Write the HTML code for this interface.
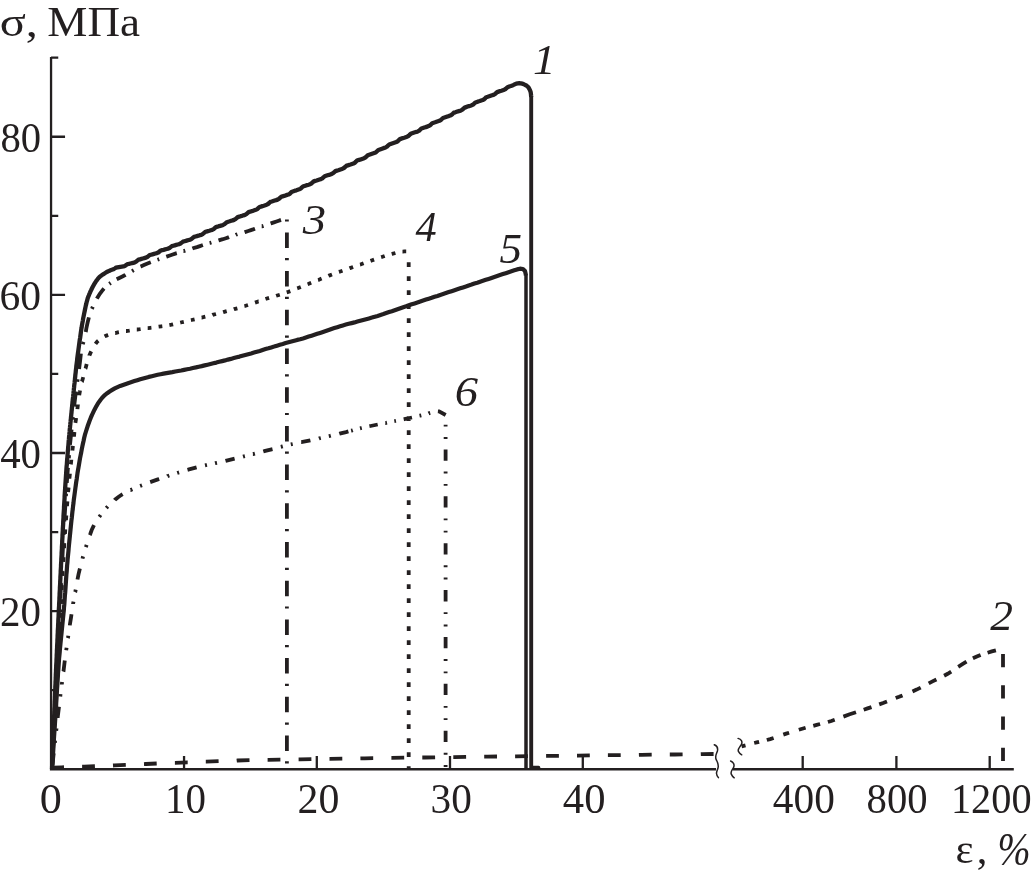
<!DOCTYPE html>
<html lang="ru">
<head>
<meta charset="utf-8">
<title>σ – ε</title>
<style>
html,body{margin:0;padding:0;background:#fff;}
body{width:1032px;height:877px;overflow:hidden;}
svg{display:block;}
text{font-family:"Liberation Serif","Times New Roman",Times,serif;fill:#231f20;}
</style>
</head>
<body>
<svg width="1032" height="877" viewBox="0 0 1032 877">
<rect width="1032" height="877" fill="#fff"/>
<g fill="none" stroke="#231f20">
<path stroke-width="2.3" d="M51.05 56.90 V769.25 H716M733 769.25 H1013.8M51.05 57.71 h7.2M51.05 215.83 h7.2M51.05 373.95 h7.2M51.05 532.07 h7.2M51.05 690.19 h7.2M51.05 136.77 h14M51.05 294.89 h14M51.05 453.01 h14M51.05 611.13 h14M184.05 769.25 v-13.3M316.80 769.25 v-13.3M450.00 769.25 v-13.3M582.80 769.25 v-13.3M802.70 769.25 v-13.3M896.40 769.25 v-13.3M989.70 769.25 v-13.3"/>
<path stroke-width="1.5" stroke-linecap="round" d="M714.3 744.8 C716.5 745.6 718.2 747.6 717.4 751 C716.6 754 714.6 756 716.2 759.6 C717.6 762.6 719 764.6 718 768 C717 771.6 715 773.4 718.4 777.6M730.6 761 C733.4 762.2 734.8 764.6 733.6 767.4 C732.2 770.4 730 772 731.4 774.4 C732 775.8 733 777 734.2 777.8M738.1 738.4 C741.2 739.4 742.8 741.6 741.4 744.4 C739.8 747.4 737.4 748.8 738.4 751.4 C739.2 753 740.4 754 741.7 754.8"/>
<path stroke-width="4.3" stroke-linejoin="round" d="M52.0 769.0 L52.1 767.5 L52.1 766.0 L52.2 764.5 L52.2 763.0 L52.3 761.5 L52.4 760.0 L52.4 758.5 L52.5 757.0 L52.5 755.5 L52.6 754.0 L52.7 752.5 L52.7 751.0 L52.8 749.5 L52.9 748.0 L52.9 746.5 L53.0 745.0 L53.0 743.5 L53.1 742.0 L53.2 740.5 L53.2 739.0 L53.3 737.5 L53.3 736.0 L53.4 734.5 L53.5 733.0 L53.5 731.5 L53.6 730.0 L53.6 728.5 L53.7 727.0 L53.8 725.5 L53.8 724.0 L53.9 722.5 L54.0 721.0 L54.0 719.5 L54.1 718.0 L54.1 716.5 L54.2 715.0 L54.3 713.5 L54.3 712.0 L54.4 710.5 L54.4 709.0 L54.5 707.6 L54.6 706.1 L54.6 704.6 L54.7 703.1 L54.7 701.6 L54.8 700.1 L54.9 698.6 L54.9 697.1 L55.0 695.6 L55.0 694.1 L55.1 692.6 L55.2 691.1 L55.2 689.6 L55.3 688.1 L55.3 686.6 L55.4 685.1 L55.5 683.6 L55.5 682.1 L55.6 680.6 L55.7 679.1 L55.7 677.6 L55.8 676.1 L55.8 674.6 L55.9 673.1 L56.0 671.6 L56.0 670.1 L56.1 668.6 L56.2 667.1 L56.2 665.6 L56.3 664.1 L56.4 662.6 L56.5 661.1 L56.5 659.6 L56.6 658.1 L56.7 656.6 L56.7 655.1 L56.8 653.6 L56.9 652.1 L56.9 650.6 L57.0 649.1 L57.1 647.6 L57.1 646.1 L57.2 644.6 L57.3 643.1 L57.4 641.6 L57.4 640.1 L57.5 638.6 L57.6 637.1 L57.6 635.6 L57.7 634.1 L57.8 632.6 L57.8 631.1 L57.9 629.6 L58.0 628.1 L58.1 626.6 L58.1 625.1 L58.2 623.6 L58.3 622.1 L58.3 620.6 L58.4 619.1 L58.5 617.6 L58.6 616.1 L58.6 614.6 L58.7 613.1 L58.8 611.6 L58.8 610.1 L58.9 608.7 L59.0 607.2 L59.1 605.7 L59.1 604.2 L59.2 602.7 L59.3 601.2 L59.4 599.7 L59.4 598.2 L59.5 596.7 L59.6 595.2 L59.6 593.7 L59.7 592.2 L59.8 590.7 L59.9 589.2 L59.9 587.7 L60.0 586.2 L60.1 584.7 L60.2 583.2 L60.2 581.7 L60.3 580.2 L60.4 578.7 L60.4 577.2 L60.5 575.7 L60.6 574.2 L60.7 572.7 L60.7 571.2 L60.8 569.7 L60.9 568.2 L61.0 566.7 L61.0 565.2 L61.1 563.7 L61.2 562.2 L61.3 560.7 L61.3 559.2 L61.4 557.7 L61.5 556.2 L61.6 554.7 L61.6 553.2 L61.7 551.7 L61.8 550.2 L61.9 548.7 L61.9 547.2 L62.0 545.7 L62.1 544.2 L62.2 542.7 L62.2 541.2 L62.3 539.7 L62.4 538.2 L62.5 536.7 L62.5 535.2 L62.6 533.7 L62.7 532.2 L62.8 530.7 L62.8 529.2 L62.9 527.7 L63.0 526.3 L63.1 524.8 L63.2 523.3 L63.2 521.8 L63.3 520.3 L63.4 518.8 L63.5 517.3 L63.5 515.8 L63.6 514.3 L63.7 512.8 L63.8 511.3 L63.9 509.8 L64.0 508.3 L64.0 506.8 L64.1 505.3 L64.2 503.8 L64.3 502.3 L64.4 500.8 L64.5 499.3 L64.6 497.8 L64.6 496.3 L64.7 494.8 L64.8 493.3 L64.9 491.8 L65.0 490.3 L65.1 488.8 L65.2 487.3 L65.3 485.8 L65.4 484.3 L65.5 482.8 L65.6 481.3 L65.7 479.8 L65.8 478.3 L65.9 476.8 L66.0 475.3 L66.1 473.8 L66.2 472.3 L66.3 470.9 L66.4 469.4 L66.5 467.9 L66.6 466.4 L66.8 464.9 L66.9 463.4 L67.0 461.9 L67.1 460.4 L67.2 458.9 L67.4 457.4 L67.5 455.9 L67.6 454.4 L67.7 452.9 L67.8 451.4 L68.0 449.9 L68.1 448.4 L68.2 446.9 L68.4 445.4 L68.5 443.9 L68.6 442.4 L68.7 440.9 L68.9 439.5 L69.0 438.0 L69.1 436.5 L69.3 435.0 L69.4 433.5 L69.6 432.0 L69.7 430.5 L69.8 429.0 L70.0 427.5 L70.1 426.0 L70.3 424.5 L70.4 423.0 L70.6 421.5 L70.7 420.0 L70.9 418.6 L71.0 417.1 L71.2 415.6 L71.3 414.1 L71.5 412.6 L71.6 411.1 L71.8 409.6 L71.9 408.1 L72.1 406.6 L72.2 405.1 L72.4 403.6 L72.5 402.1 L72.7 400.6 L72.8 399.2 L73.0 397.7 L73.2 396.2 L73.3 394.7 L73.5 393.2 L73.6 391.7 L73.8 390.2 L73.9 388.7 L74.1 387.2 L74.2 385.7 L74.4 384.2 L74.6 382.7 L74.7 381.2 L74.9 379.8 L75.0 378.3 L75.2 376.8 L75.3 375.3 L75.5 373.8 L75.7 372.3 L75.8 370.8 L76.0 369.3 L76.2 367.8 L76.3 366.3 L76.5 364.8 L76.7 363.4 L76.9 361.9 L77.1 360.4 L77.2 358.9 L77.4 357.4 L77.6 355.9 L77.8 354.4 L78.0 352.9 L78.2 351.5 L78.4 350.0 L78.6 348.5 L78.8 347.0 L79.0 345.5 L79.2 344.0 L79.4 342.5 L79.6 341.1 L79.8 339.6 L80.1 338.1 L80.3 336.6 L80.5 335.1 L80.7 333.6 L80.9 332.1 L81.1 330.7 L81.3 329.2 L81.6 327.7 L81.8 326.2 L82.1 324.7 L82.3 323.3 L82.6 321.8 L82.9 320.3 L83.1 318.8 L83.4 317.4 L83.7 315.9 L84.0 314.4 L84.3 312.9 L84.6 311.5 L84.9 310.0 L85.2 308.5 L85.5 307.1 L85.8 305.6 L86.2 304.1 L86.5 302.7 L86.9 301.2 L87.3 299.8 L87.7 298.3 L88.2 296.9 L88.8 295.5 L89.3 294.1 L89.9 292.8 L90.5 291.4 L91.2 290.0 L91.8 288.7 L92.5 287.3 L93.2 286.0 L93.9 284.7 L94.7 283.4 L95.5 282.1 L96.3 280.9 L97.2 279.7 L98.1 278.5 L99.1 277.4 L100.2 276.4 L101.4 275.5 L102.6 274.6 L103.9 273.8 L105.2 273.0 L106.5 272.2 L107.8 271.5 L109.1 270.9 L110.5 270.3 L111.9 269.8 L113.3 269.3 L114.7 268.5 L116.0 267.7 L117.4 267.4 L118.9 267.1 L120.4 266.8 L121.9 266.6 L123.4 266.4 L124.8 265.9 L126.1 265.1 L127.4 264.2 L128.9 263.9 L130.4 263.5 L131.8 263.2 L133.3 262.8 L134.8 262.4 L136.1 261.7 L137.3 260.7 L138.5 259.7 L140.0 259.3 L141.4 258.9 L142.9 258.5 L144.3 258.1 L145.8 257.7 L147.2 257.1 L148.4 256.1 L149.6 255.1 L151.0 254.7 L152.5 254.3 L154.0 253.9 L155.4 253.5 L156.9 253.1 L158.3 252.5 L159.5 251.5 L160.7 250.5 L162.2 250.1 L163.6 249.8 L165.1 249.4 L166.6 249.0 L168.0 248.7 L169.4 248.1 L170.6 247.1 L171.9 246.1 L173.3 245.7 L174.8 245.3 L176.2 244.9 L177.7 244.5 L179.2 244.2 L180.5 243.5 L181.7 242.6 L183.0 241.6 L184.4 241.2 L185.9 240.8 L187.3 240.4 L188.8 240.0 L190.3 239.6 L191.6 238.9 L192.8 237.9 L194.0 236.9 L195.5 236.5 L196.9 236.1 L198.4 235.7 L199.8 235.2 L201.3 234.8 L202.6 234.1 L203.8 233.1 L205.0 232.1 L206.4 231.6 L207.9 231.2 L209.3 230.8 L210.8 230.3 L212.2 229.9 L213.6 229.2 L214.7 228.2 L215.9 227.1 L217.4 226.7 L218.8 226.2 L220.3 225.8 L221.7 225.4 L223.1 224.9 L224.5 224.2 L225.7 223.2 L226.8 222.2 L228.3 221.7 L229.7 221.3 L231.2 220.8 L232.6 220.4 L234.1 219.9 L235.4 219.2 L236.6 218.2 L237.7 217.1 L239.2 216.7 L240.6 216.2 L242.1 215.8 L243.5 215.3 L245.0 214.9 L246.3 214.2 L247.5 213.2 L248.6 212.1 L250.1 211.7 L251.5 211.2 L253.0 210.8 L254.4 210.3 L255.8 209.8 L257.2 209.1 L258.3 208.1 L259.5 207.0 L260.9 206.6 L262.4 206.1 L263.8 205.7 L265.3 205.2 L266.7 204.7 L268.0 204.0 L269.2 203.0 L270.4 201.9 L271.8 201.5 L273.2 201.0 L274.7 200.5 L276.1 200.1 L277.6 199.6 L278.9 198.9 L280.0 197.9 L281.2 196.8 L282.6 196.3 L284.1 195.9 L285.5 195.4 L287.0 194.9 L288.4 194.5 L289.7 193.8 L290.9 192.7 L292.0 191.7 L293.5 191.2 L294.9 190.7 L296.4 190.3 L297.8 189.8 L299.2 189.3 L300.6 188.6 L301.7 187.6 L302.9 186.5 L304.3 186.0 L305.8 185.6 L307.2 185.1 L308.6 184.7 L310.1 184.2 L311.4 183.5 L312.6 182.4 L313.7 181.4 L315.2 180.9 L316.6 180.5 L318.1 180.0 L319.5 179.5 L320.9 179.1 L322.3 178.4 L323.4 177.3 L324.6 176.3 L326.0 175.8 L327.5 175.3 L328.9 174.9 L330.3 174.4 L331.8 173.9 L333.1 173.2 L334.3 172.2 L335.4 171.1 L336.9 170.6 L338.3 170.2 L339.7 169.7 L341.2 169.2 L342.6 168.7 L343.9 168.0 L345.1 167.0 L346.2 165.9 L347.7 165.4 L349.1 164.9 L350.5 164.5 L352.0 164.0 L353.4 163.5 L354.7 162.8 L355.9 161.7 L357.0 160.6 L358.4 160.1 L359.9 159.7 L361.3 159.2 L362.7 158.7 L364.2 158.2 L365.5 157.4 L366.6 156.4 L367.7 155.3 L369.2 154.8 L370.6 154.3 L372.0 153.8 L373.5 153.3 L374.9 152.8 L376.2 152.1 L377.3 151.0 L378.5 149.9 L379.9 149.4 L381.3 148.9 L382.7 148.4 L384.2 147.9 L385.6 147.4 L386.9 146.7 L388.0 145.6 L389.2 144.5 L390.6 144.0 L392.0 143.5 L393.5 143.0 L394.9 142.5 L396.3 142.0 L397.6 141.3 L398.8 140.2 L399.9 139.1 L401.4 138.6 L402.8 138.1 L404.2 137.7 L405.6 137.2 L407.1 136.7 L408.4 136.0 L409.5 134.9 L410.7 133.8 L412.1 133.3 L413.5 132.8 L415.0 132.3 L416.4 131.9 L417.8 131.4 L419.2 130.7 L420.3 129.6 L421.4 128.5 L422.9 128.0 L424.3 127.5 L425.7 127.1 L427.2 126.6 L428.6 126.1 L429.9 125.4 L431.1 124.3 L432.2 123.2 L433.7 122.7 L435.1 122.3 L436.5 121.8 L438.0 121.3 L439.4 120.8 L440.7 120.1 L441.9 119.0 L443.0 118.0 L444.5 117.5 L445.9 117.0 L447.3 116.5 L448.8 116.1 L450.2 115.6 L451.5 114.9 L452.7 113.8 L453.8 112.7 L455.3 112.3 L456.7 111.8 L458.1 111.3 L459.6 110.9 L461.0 110.4 L462.3 109.7 L463.5 108.6 L464.6 107.6 L466.1 107.1 L467.5 106.6 L469.0 106.1 L470.4 105.7 L471.8 105.2 L473.2 104.5 L474.3 103.4 L475.5 102.4 L476.9 101.9 L478.3 101.4 L479.8 101.0 L481.2 100.5 L482.7 100.0 L484.0 99.3 L485.1 98.3 L486.3 97.2 L487.7 96.8 L489.2 96.3 L490.6 95.8 L492.1 95.3 L493.5 94.9 L494.8 94.2 L496.0 93.1 L497.1 92.1 L498.6 91.6 L500.0 91.1 L501.4 90.7 L502.9 90.2 L504.3 89.7 L505.6 89.0 L506.8 87.9 L508.0 86.9 L509.4 86.4 L510.9 86.0 L512.3 85.5 L513.6 84.9 L515.0 84.2 L516.3 83.6 L517.7 83.3 L519.2 83.2 L520.7 83.3 L522.2 83.7 L523.6 84.1 L525.0 84.8 L526.3 85.5 L527.5 86.4 L528.5 87.5 L529.3 88.8 L529.9 90.1 L530.5 91.5 L530.8 93.0 L531.0 94.5 L531.1 96.0 L531.2 97.0"/>
<path stroke-width="3.4" stroke-linecap="round" d="M532 767.4 L538.6 767.4"/>
<path stroke-width="4.2" stroke-linejoin="round" d="M52.0 769.0 L52.2 766.0 L52.4 763.0 L52.6 760.0 L52.8 757.0 L53.0 754.0 L53.2 751.0 L53.4 748.0 L53.6 745.1 L53.8 742.1 L53.9 739.1 L54.1 736.1 L54.3 733.1 L54.5 730.1 L54.7 727.1 L54.9 724.1 L55.1 721.1 L55.3 718.1 L55.5 715.1 L55.7 712.1 L55.9 709.1 L56.1 706.1 L56.2 703.1 L56.4 700.1 L56.6 697.1 L56.8 694.2 L56.9 691.2 L57.1 688.2 L57.3 685.2 L57.5 682.2 L57.7 679.2 L57.9 676.2 L58.0 673.2 L58.3 670.2 L58.5 667.2 L58.7 664.2 L58.9 661.2 L59.1 658.2 L59.4 655.2 L59.7 652.3 L59.9 649.3 L60.2 646.3 L60.5 643.3 L60.8 640.3 L61.1 637.3 L61.4 634.3 L61.7 631.4 L62.0 628.4 L62.3 625.4 L62.6 622.4 L62.9 619.4 L63.2 616.4 L63.5 613.4 L63.8 610.5 L64.0 607.5 L64.3 604.5 L64.5 601.5 L64.7 598.5 L64.9 595.5 L65.2 592.5 L65.4 589.5 L65.6 586.5 L65.8 583.5 L66.0 580.5 L66.2 577.5 L66.4 574.6 L66.7 571.6 L66.9 568.6 L67.1 565.6 L67.4 562.6 L67.6 559.6 L67.9 556.6 L68.2 553.6 L68.5 550.6 L68.7 547.7 L69.0 544.7 L69.3 541.7 L69.6 538.7 L69.9 535.7 L70.2 532.7 L70.5 529.7 L70.8 526.8 L71.1 523.8 L71.4 520.8 L71.8 517.8 L72.1 514.8 L72.4 511.8 L72.8 508.9 L73.1 505.9 L73.5 502.9 L73.8 499.9 L74.2 497.0 L74.6 494.0 L75.0 491.0 L75.4 488.0 L75.8 485.1 L76.2 482.1 L76.7 479.1 L77.1 476.1 L77.5 473.2 L78.0 470.2 L78.5 467.3 L79.0 464.3 L79.5 461.3 L80.0 458.4 L80.6 455.4 L81.2 452.5 L81.7 449.6 L82.3 446.6 L82.9 443.7 L83.6 440.7 L84.2 437.8 L84.9 434.9 L85.8 432.0 L86.7 429.2 L87.6 426.3 L88.6 423.5 L89.6 420.7 L90.7 417.9 L91.9 415.1 L93.2 412.4 L94.5 409.7 L95.9 407.1 L97.4 404.4 L99.0 401.9 L100.8 399.5 L102.7 397.2 L104.8 395.1 L107.2 393.2 L109.6 391.5 L112.2 389.9 L114.8 388.4 L117.5 387.1 L120.2 385.9 L123.0 384.9 L125.9 383.9 L128.7 382.9 L131.6 382.0 L134.4 381.1 L137.3 380.2 L140.2 379.3 L143.1 378.5 L145.9 377.7 L148.8 376.9 L151.8 376.2 L154.7 375.5 L157.6 374.8 L160.5 374.2 L163.5 373.6 L166.4 373.1 L169.4 372.6 L172.3 372.1 L175.3 371.5 L178.2 371.0 L181.2 370.5 L184.1 369.9 L187.1 369.3 L190.0 368.7 L192.9 368.0 L195.9 367.4 L198.8 366.7 L201.7 366.1 L204.6 365.4 L207.6 364.7 L210.5 364.0 L213.4 363.3 L216.3 362.6 L219.2 361.8 L222.1 361.1 L225.0 360.4 L227.9 359.6 L230.9 358.9 L233.8 358.1 L236.7 357.3 L239.5 356.6 L242.4 355.8 L245.3 355.0 L248.2 354.2 L251.1 353.4 L254.0 352.5 L256.9 351.7 L259.8 350.9 L262.6 350.0 L265.5 349.1 L268.4 348.3 L271.3 347.4 L274.1 346.6 L277.0 345.7 L279.9 344.8 L282.8 344.0 L285.6 343.1 L288.5 342.3 L291.4 341.5 L294.3 340.7 L297.2 339.9 L300.1 339.2 L303.0 338.4 L305.9 337.5 L308.7 336.6 L311.6 335.7 L314.4 334.8 L317.3 333.8 L320.1 332.9 L323.0 331.9 L325.8 331.0 L328.7 330.0 L331.5 329.0 L334.3 328.1 L337.2 327.2 L340.1 326.3 L342.9 325.4 L345.8 324.6 L348.7 323.8 L351.6 323.1 L354.5 322.4 L357.4 321.6 L360.3 320.8 L363.2 320.0 L366.1 319.2 L369.0 318.4 L371.9 317.6 L374.8 316.7 L377.6 315.9 L380.5 315.0 L383.4 314.1 L386.2 313.1 L389.1 312.1 L391.9 311.2 L394.7 310.2 L397.5 309.2 L400.4 308.2 L403.2 307.2 L406.1 306.3 L408.9 305.3 L411.7 304.3 L414.6 303.4 L417.4 302.5 L420.3 301.5 L423.1 300.6 L426.0 299.6 L428.8 298.7 L431.7 297.8 L434.5 296.8 L437.4 295.9 L440.2 294.9 L443.1 294.0 L445.9 293.1 L448.8 292.1 L451.6 291.2 L454.5 290.2 L457.3 289.3 L460.2 288.3 L463.0 287.4 L465.9 286.5 L468.7 285.5 L471.6 284.6 L474.4 283.6 L477.3 282.7 L480.1 281.7 L482.9 280.8 L485.8 279.8 L488.6 278.9 L491.5 277.9 L494.3 277.0 L497.2 276.0 L500.0 275.1 L502.9 274.1 L505.7 273.2 L508.6 272.2 L511.4 271.3 L514.3 270.3 L517.1 269.4 L520.0 268.7 L522.9 269.0 L525.0 271.1 L525.7 274.0 L525.9 275.5"/>
<path stroke-width="3.9" d="M531.2 96V768"/>
<path stroke-width="3.5" d="M526.0 274.5V768"/>
<path stroke-width="3.8" d="M52.1 766.1 L52.2 764.8 L52.3 763.5M52.8 752.9 L52.8 752.7 L53.5 737.7 L53.5 737.5M54.0 727.5 L54.0 727.2 L54.1 724.9M54.6 714.4 L54.7 712.8 L55.3 700.4 L55.4 698.9M55.9 689.0 L55.9 688.3 L56.0 686.4M56.5 675.8 L56.6 674.4 L57.3 660.3M57.8 650.4 L57.8 649.4 L57.9 647.8M58.4 637.2 L58.6 633.2 L59.2 621.8M59.7 611.8 L59.7 610.9 L59.8 609.2M60.3 598.7 L60.4 597.3 L61.1 583.2M61.6 573.2 L61.7 571.4 L61.7 570.7M62.3 560.1 L62.3 560.0 L63.1 544.7M63.6 534.7 L63.7 533.7 L63.8 532.1M64.4 521.5 L64.5 519.0 L65.3 506.1M65.9 496.2 L66.0 495.0 L66.1 493.6M66.8 483.1 L66.8 482.8 L67.8 469.6 L68.0 467.7M68.8 457.8 L68.9 457.5 L69.1 455.2M70.0 444.7 L70.1 443.9 L71.3 432.0 L71.6 429.5M72.6 419.6 L72.8 417.9 L72.9 417.1M74.1 406.6 L74.1 406.5 L75.3 396.5 L75.9 391.5M77.3 381.7 L77.4 381.0 L77.7 379.2M79.1 368.9 L79.2 368.1 L79.9 362.5 L80.5 357.2 L80.9 353.6M82.8 344.2 L82.8 344.2 L83.5 341.9M85.7 332.0 L85.8 331.7 L86.4 328.2 L87.1 324.8 L87.8 321.8 L88.5 319.0 L88.9 317.4M91.9 308.8 L92.0 308.6 L92.8 306.7M96.9 298.6 L97.1 298.2 L98.6 295.8 L100.0 293.6 L101.5 291.6 L102.8 289.9 L104.0 288.5M109.3 283.9 L109.3 283.9 L110.7 282.9M116.7 279.3 L116.7 279.3 L119.3 278.0 L121.9 276.7 L124.7 275.3 L125.6 274.8M125.6 274.8 L125.6 274.8M132.0 271.2 L132.3 271.0 L133.7 270.2M140.5 266.5 L140.8 266.4 L143.9 265.0 L146.9 263.7 L150.0 262.5 L150.8 262.2M157.5 259.7 L158.1 259.5 L159.2 259.1M166.3 256.7 L166.6 256.6 L169.9 255.5 L172.7 254.5 L175.3 253.6 L176.8 253.2M183.5 251.1 L183.6 251.1 L185.3 250.6M192.4 248.5 L192.9 248.3 L196.9 247.1 L199.9 246.1 L202.3 245.3 L202.9 245.1M209.6 243.0 L210.1 242.9 L211.4 242.5M218.5 240.4 L218.8 240.3 L222.8 239.2 L225.9 238.2 L228.3 237.4 L229.0 237.1M235.7 234.9 L235.9 234.8 L237.4 234.3M244.6 232.2 L244.9 232.1 L248.3 231.0 L250.9 230.1 L253.1 229.4 L255.0 228.7M261.7 226.4 L262.0 226.4 L263.5 225.9M270.6 223.5 L270.9 223.4 L273.9 222.4 L276.5 221.5 L278.7 220.7 L280.4 220.1 L281.0 219.9M286.9 219.4 L286.9 221.6M286.9 232.4 L286.9 247.9M286.9 258.1 L286.9 260.3M286.9 271.1 L286.9 286.6M286.9 296.8 L286.9 299.0M286.9 309.8 L286.9 325.3M286.9 335.5 L286.9 337.7M286.9 348.5 L286.9 364.0M286.9 374.2 L286.9 376.4M286.9 387.2 L286.9 402.7M286.9 412.9 L286.9 415.1M286.9 425.9 L286.9 441.4M286.9 451.6 L286.9 453.8M286.9 464.6 L286.9 480.1M286.9 490.3 L286.9 492.5M286.9 503.3 L286.9 518.8M286.9 529.0 L286.9 531.2M286.9 542.0 L286.9 557.5M286.9 567.7 L286.9 569.9M286.9 580.7 L286.9 596.2M286.9 606.4 L286.9 608.6M286.9 619.4 L286.9 634.9M286.9 645.1 L286.9 647.3M286.9 658.1 L286.9 673.6M286.9 683.8 L286.9 686.0M286.9 696.8 L286.9 712.3M286.9 722.5 L286.9 724.7M286.9 735.5 L286.9 751.0M286.9 761.2 L286.9 763.4M52.0 769.0 L52.1 767.8 L52.1 766.7M52.6 757.5 L52.7 757.2 L52.9 752.7M53.4 743.5 L53.5 742.9 L53.7 738.7M54.2 729.5 L54.3 727.2 L54.5 724.8M55.0 715.6 L55.0 715.0 L55.2 710.8M55.7 701.6 L55.8 700.4 L56.0 696.8M56.5 687.7 L56.6 686.2 L56.8 682.9M57.3 673.7 L57.4 671.8 L57.5 668.9M58.0 659.7 L58.2 656.7 L58.3 654.9M58.7 645.7 L58.8 645.5 L59.0 641.0M59.5 631.8 L59.6 628.5 L59.7 627.0M60.2 617.8 L60.3 614.9 L60.4 613.0M60.9 603.8 L61.1 601.1 L61.2 599.1M61.6 589.9 L61.8 587.6 L61.9 585.1M62.4 575.9 L62.5 574.9 L62.7 571.1M63.2 561.9 L63.3 560.0 L63.5 557.2M64.0 548.0 L64.1 547.4 L64.3 543.2M65.0 534.0 L65.0 533.4 L65.3 529.3M66.0 520.1 L66.1 518.8 L66.3 515.3M67.0 506.2 L67.0 506.0 L67.4 501.4M68.1 492.2 L68.2 491.0 L68.6 487.5M69.4 478.3 L69.5 477.8 L69.9 473.6M70.8 464.4 L70.9 463.9 L71.3 460.0 L71.3 459.7M72.4 450.6 L72.4 450.5 L72.8 447.1 L73.0 445.9M74.0 436.8 L74.0 436.7 L74.3 433.2 L74.4 432.0M75.4 422.9 L75.5 422.3 L76.0 418.9 L76.1 418.1M77.4 409.1 L77.4 409.1 L77.8 405.6 L77.9 404.4M79.2 395.3 L79.3 394.7 L79.9 391.3 L80.0 390.6M81.9 381.7 L82.0 381.6 L82.9 378.2 L83.1 377.2M85.5 368.5 L85.6 368.4 L86.5 364.8 L86.7 364.0M89.4 355.5 L89.4 355.4 L90.8 352.2 L91.3 351.3M95.5 343.9 L95.7 343.6 L96.7 342.3 L97.7 341.2 L98.3 340.7M104.6 336.4 L104.8 336.3 L107.0 335.4 L108.2 335.0M115.2 333.0 L115.3 333.0 L117.8 332.4 L118.9 332.2M126.0 331.0 L126.3 331.0 L129.1 330.6 L129.7 330.5M136.8 329.5 L137.2 329.5 L139.9 329.2 L140.6 329.1M147.7 328.2 L147.9 328.2 L150.5 327.8 L151.4 327.7M158.6 326.7 L158.6 326.7 L161.5 326.3 L162.3 326.2M169.4 325.1 L169.4 325.1 L171.5 324.7 L173.1 324.3M180.2 322.6 L180.6 322.5 L183.8 321.8M190.9 320.1 L191.5 320.0 L194.6 319.3M201.6 317.6 L201.7 317.6 L205.3 316.7M212.4 315.0 L212.6 314.9 L216.0 314.0M223.1 312.2 L223.4 312.1 L226.7 311.2M233.8 309.3 L234.3 309.1 L237.4 308.3M244.4 306.1 L244.9 306.0 L248.0 305.0M255.0 302.6 L255.0 302.6 L258.5 301.4 L258.6 301.4M265.5 299.0 L266.1 298.8 L269.1 297.9M276.1 295.8 L276.4 295.7 L279.8 294.7M286.7 292.4 L287.4 292.2 L290.3 291.1M297.2 288.4 L297.5 288.3 L300.8 287.0M307.6 284.2 L308.2 284.0 L311.2 282.8M318.0 280.0 L318.5 279.9 L321.6 278.6M328.5 275.9 L329.1 275.6 L332.0 274.5M338.9 271.9 L339.6 271.7 L342.5 270.7M349.5 268.3 L350.0 268.1 L353.1 267.0M360.0 264.6 L360.5 264.5 L363.6 263.3M370.5 260.9 L371.6 260.5 L374.1 259.6M381.1 257.2 L381.8 257.0 L384.7 256.0M391.7 254.0 L392.1 253.9 L395.4 253.0M402.5 251.6 L402.7 251.6 L404.5 251.4 L405.9 251.3 L406.2 251.3M408.7 262.2 L408.7 267.0M408.7 276.2 L408.7 281.0M408.7 290.2 L408.7 295.0M408.7 304.2 L408.7 309.0M408.7 318.2 L408.7 323.0M408.7 332.2 L408.7 337.0M408.7 346.2 L408.7 351.0M408.7 360.2 L408.7 365.0M408.7 374.2 L408.7 379.0M408.7 388.2 L408.7 393.0M408.7 402.2 L408.7 407.0M408.7 416.2 L408.7 421.0M408.7 430.2 L408.7 435.0M408.7 444.2 L408.7 449.0M408.7 458.2 L408.7 463.0M408.7 472.2 L408.7 477.0M408.7 486.2 L408.7 491.0M408.7 500.2 L408.7 505.0M408.7 514.2 L408.7 519.0M408.7 528.2 L408.7 533.0M408.7 542.2 L408.7 547.0M408.7 556.2 L408.7 561.0M408.7 570.2 L408.7 575.0M408.7 584.2 L408.7 589.0M408.7 598.2 L408.7 603.0M408.7 612.2 L408.7 617.0M408.7 626.2 L408.7 631.0M408.7 640.2 L408.7 645.0M408.7 654.2 L408.7 659.0M408.7 668.2 L408.7 673.0M408.7 682.2 L408.7 687.0M408.7 696.2 L408.7 701.0M408.7 710.2 L408.7 715.0M408.7 724.2 L408.7 729.0M408.7 738.2 L408.7 743.0M408.7 752.2 L408.7 757.0M408.7 766.2 L408.7 768.6M52.5 764.4 L52.7 763.1 L53.7 753.2M54.9 742.9 L54.9 742.4 L55.1 740.5M56.2 730.7 L56.4 729.3 L56.5 728.4M57.7 718.0 L57.7 717.2 L59.0 706.8M60.3 696.5 L60.4 695.0 L60.5 694.1M61.8 684.4 L61.8 684.3 L62.1 682.0M63.4 671.6 L63.5 671.3 L64.4 663.7 L64.8 660.5M66.2 650.2 L66.2 650.2 L66.6 647.8M67.9 638.1 L68.0 637.8 L68.3 635.7M69.8 625.4 L69.9 624.4 L71.0 617.6 L71.5 614.3M73.1 604.1 L73.1 603.6 L73.5 601.7M75.2 592.1 L75.3 591.9 L75.7 589.7M77.5 579.5 L77.6 578.9 L78.6 573.9 L79.6 569.7 L79.9 568.6M82.5 558.6 L82.6 558.1 L83.1 556.4M85.9 547.1 L86.0 546.8 L86.6 544.9M89.8 535.1 L90.1 534.5 L91.7 530.0 L93.5 526.2 L94.1 525.1M99.3 516.8 L99.3 516.8 L100.6 515.0M106.3 508.0 L106.4 507.9 L107.8 506.5M114.7 500.1 L115.0 499.7 L118.4 497.0 L121.6 494.8 L122.6 494.2M130.5 490.1 L130.6 490.1 L132.4 489.3M140.1 486.0 L140.1 486.0 L142.0 485.3M150.2 482.1 L150.8 481.9 L157.9 479.4 L159.2 479.0M167.4 476.2 L167.5 476.1 L169.3 475.5M177.2 473.0 L178.1 472.7 L179.1 472.4M187.5 469.8 L189.0 469.4 L196.6 467.4M205.0 465.4 L205.9 465.2 L207.0 465.0M215.0 463.2 L215.4 463.1 L217.0 462.8M225.5 460.9 L226.6 460.6 L234.6 458.6M243.0 456.6 L244.0 456.3 L244.9 456.1M252.9 454.1 L253.0 454.1 L254.9 453.6M263.3 451.5 L264.3 451.2 L271.6 449.3 L272.5 449.1M280.8 446.8 L281.3 446.7 L282.8 446.3M290.8 444.4 L290.8 444.4 L292.7 444.0M301.2 442.2 L301.4 442.2 L307.7 440.9 L310.4 440.3M318.9 438.5 L319.4 438.3 L320.8 438.0M328.8 436.2 L329.7 436.0 L330.8 435.7M339.3 433.8 L339.6 433.7 L346.0 432.1 L348.4 431.4M351.1 430.7 L351.6 430.6 L352.8 430.2M360.0 428.4 L360.8 428.2 L361.8 428.0M369.4 426.2 L370.5 426.0 L377.7 424.5M385.3 423.0 L385.6 423.0 L387.0 422.7M394.3 421.2 L395.4 421.0 L396.0 420.9M403.7 419.3 L404.2 419.2 L412.0 417.5M419.5 415.7 L420.0 415.6 L421.3 415.3M428.5 413.4 L428.7 413.3 L430.2 412.9M437.9 411.3 L439.0 411.4 L445.7 415.0M445.6 424.7 L445.6 426.6M445.6 437.0 L445.6 438.9M445.6 449.4 L445.6 460.8M445.6 471.6 L445.6 473.5M445.6 483.9 L445.6 485.8M445.6 496.3 L445.6 507.6M445.6 518.4 L445.6 520.3M445.6 530.7 L445.6 532.6M445.6 543.2 L445.6 554.5M445.6 565.3 L445.6 567.2M445.6 577.6 L445.6 579.5M445.6 590.1 L445.6 601.4M445.6 612.2 L445.6 614.1M445.6 624.5 L445.6 626.4M445.6 636.9 L445.6 648.2M445.6 659.1 L445.6 661.0M445.6 671.4 L445.6 673.2M445.6 683.8 L445.6 695.1M445.6 705.9 L445.6 707.8M445.6 718.2 L445.6 720.1M445.6 730.7 L445.6 742.0M445.6 752.8 L445.6 754.7M445.6 765.1 L445.6 767.0M51.2 767.6 L52.3 767.6 L61.8 767.3 L64.0 767.2M82.1 766.6 L84.2 766.6 L94.9 766.2M113.0 765.5 L114.5 765.4 L125.8 764.9M144.0 764.1 L145.8 764.0 L156.7 763.5M174.9 762.8 L175.0 762.8 L187.5 762.3 L187.7 762.3M205.8 761.6 L206.2 761.6 L218.6 761.1M236.7 760.6 L237.5 760.5 L249.5 760.2M267.6 759.8 L268.3 759.8 L279.6 759.6 L280.4 759.6M298.6 759.3 L300.0 759.3 L311.4 759.1M329.5 758.8 L329.6 758.8 L342.3 758.6M360.4 758.4 L364.8 758.3 L373.2 758.2M391.4 757.9 L391.5 757.9 L404.2 757.7M422.3 757.5 L425.0 757.5 L435.1 757.3M453.3 757.1 L454.2 757.1 L466.1 756.9M484.2 756.7 L487.5 756.7 L497.0 756.5M515.1 756.3 L516.5 756.3 L527.9 756.2M546.1 755.9 L549.0 755.9 L558.9 755.8M577.0 755.6 L578.2 755.6 L589.8 755.4M607.9 755.2 L609.4 755.2 L620.7 755.1M638.9 754.9 L641.6 754.8 L651.7 754.7M669.8 754.5 L674.8 754.5 L682.6 754.4M700.8 754.2 L702.8 754.1 L713.6 754.0M741.6 746.4 L743.5 745.9 L745.5 745.4M754.2 743.0 L756.7 742.4 L759.1 741.8M766.8 740.0 L770.2 739.1 L773.6 738.0M783.3 734.6 L786.2 733.6 L789.1 732.7M798.8 729.8 L802.2 728.8 L805.6 727.8M813.3 725.8 L816.7 724.9 L820.1 724.0M827.9 722.0 L831.3 721.0 L834.7 719.8M843.4 716.6 L849.7 714.3 L856.0 712.2M863.7 709.7 L867.6 708.4 L871.5 707.1M879.2 704.4 L883.1 703.0 L887.0 701.5M895.7 698.1 L899.1 696.8 L902.5 695.4M912.5 691.4 L916.6 689.6 L920.7 687.6M928.7 683.4 L932.5 681.4 L936.4 679.5M944.1 675.7 L947.7 673.8 L951.2 671.6M958.2 666.8 L962.4 664.2 L966.5 661.7M972.9 658.3 L976.8 656.5 L980.6 655.0M987.6 652.7 L991.8 651.4 L995.9 650.3M1003.0 653.9 L1003.0 667.2M1003.0 685.2 L1003.0 698.5M1003.0 716.5 L1003.0 729.8M1003.0 747.8 L1003.0 761.1"/>
</g>
<g>
<text transform="translate(-0.32 35.60) scale(1.1525 1)" font-size="42.0">σ,</text>
<text transform="translate(47.35 35.60) scale(1.0742 1)" font-size="42.0">МПа</text>
<text transform="translate(0.38 151.67) scale(0.9678 1)" font-size="42.0">80</text>
<text transform="translate(-0.46 309.79) scale(0.9886 1)" font-size="42.0">60</text>
<text transform="translate(0.18 467.91) scale(0.9726 1)" font-size="42.0">40</text>
<text transform="translate(0.06 626.03) scale(0.9757 1)" font-size="42.0">20</text>
<text transform="translate(39.74 813.00) scale(1.0532 1)" font-size="42.0">0</text>
<text transform="translate(164.91 813.00) scale(0.9769 1)" font-size="42.0">10</text>
<text transform="translate(297.52 813.00) scale(0.9952 1)" font-size="42.0">20</text>
<text transform="translate(430.54 813.00) scale(0.9836 1)" font-size="42.0">30</text>
<text transform="translate(562.85 813.00) scale(1.0155 1)" font-size="42.0">40</text>
<text transform="translate(772.87 813.00) scale(0.9837 1)" font-size="42.0">400</text>
<text transform="translate(866.58 813.00) scale(0.9674 1)" font-size="42.0">800</text>
<text transform="translate(950.97 813.00) scale(0.9600 1)" font-size="42.0">1200</text>
<text transform="translate(955.59 863.30) scale(1.0845 1)" font-size="39.5">ε</text>
<text transform="translate(976.80 863.30) scale(1.0159 1)" font-size="42.0">,</text>
<text transform="translate(997.62 865.10) scale(0.8730 1)" font-size="45.5" font-style="italic">%</text>
<text transform="translate(533.12 74.20) scale(1.0723 1)" font-size="42.0" font-style="italic">1</text>
<text transform="translate(990.20 630.30) scale(1.0820 1)" font-size="42.0" font-style="italic">2</text>
<text transform="translate(302.72 234.20) scale(1.1103 1)" font-size="42.0" font-style="italic">3</text>
<text transform="translate(415.49 241.20) scale(1.0075 1)" font-size="42.0" font-style="italic">4</text>
<text transform="translate(499.42 263.00) scale(1.0727 1)" font-size="42.0" font-style="italic">5</text>
<text transform="translate(454.84 406.00) scale(1.1094 1)" font-size="42.0" font-style="italic">6</text>
</g>
</svg>
</body>
</html>
